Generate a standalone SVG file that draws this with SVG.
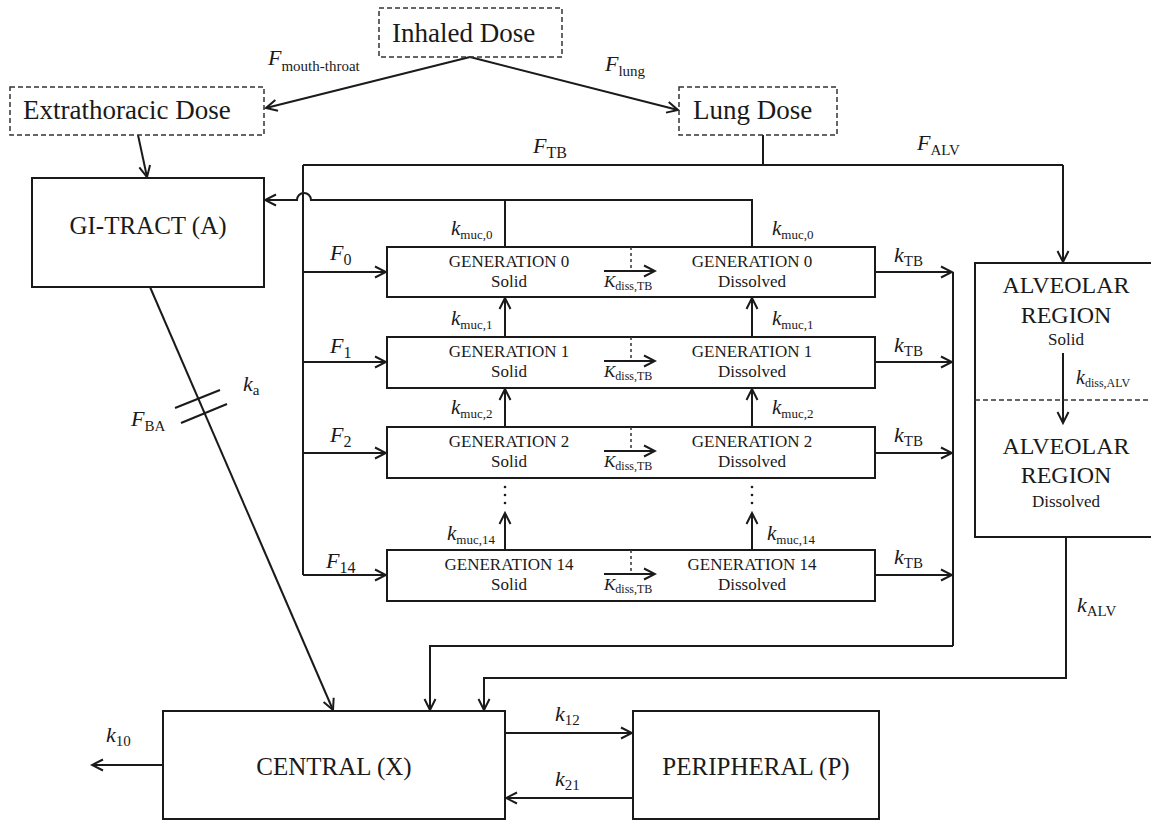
<svg xmlns="http://www.w3.org/2000/svg" width="1151" height="821" viewBox="0 0 1151 821">
<style>
.box{fill:none;stroke:#1a1a1a;stroke-width:2}
.dbox{fill:none;stroke:#333;stroke-width:1.5;stroke-dasharray:5 3}
.ln{fill:none;stroke:#1a1a1a;stroke-width:2}
.dl{fill:none;stroke:#333;stroke-width:1.5;stroke-dasharray:3 3}
.ar{marker-end:url(#ah)}
text{font-family:"Liberation Serif","Times New Roman",serif;fill:#1a1a1a}
.i{font-style:italic}
.big{font-size:27px}
.mid{font-size:25px}
.gen{font-size:17px;text-anchor:middle}
.alv{font-size:24px;text-anchor:middle}
.c{text-anchor:middle}
</style>
<defs>
<marker id="ah" markerUnits="userSpaceOnUse" markerWidth="14" markerHeight="14" refX="12" refY="7" orient="auto">
<path d="M1,1.5 L12,7 L1,12.5" fill="none" stroke="#1a1a1a" stroke-width="2"/>
</marker>
</defs>

<g id="connectors">
<!-- inhaled dose split -->
<path class="ln ar" d="M470,57 L266,108"/>
<path class="ln ar" d="M470,57 L678,110"/>
<path class="ln ar" d="M138,135 L147,177"/>
<!-- lung dose distribution -->
<path class="ln" d="M763,135 L763,165"/>
<path class="ln" d="M303,165 L1063,165"/>
<path class="ln ar" d="M1063,165 L1063,262"/>
<path class="ln" d="M303,165 L303,575"/>
<path class="ln ar" d="M303,272 L386,272"/>
<path class="ln ar" d="M303,362 L386,362"/>
<path class="ln ar" d="M303,453 L386,453"/>
<path class="ln ar" d="M303,575 L386,575"/>
<!-- mucociliary to GI -->
<path class="ln" d="M505,247 L505,200"/>
<path class="ln ar" d="M752,247 L752,200 L311,200 A7,7 0 0 0 297,200 L265,200"/>
<!-- muc arrows between generations -->
<path class="ln ar" d="M505,337 L505,298"/>
<path class="ln ar" d="M752,337 L752,298"/>
<path class="ln ar" d="M505,427 L505,389"/>
<path class="ln ar" d="M752,427 L752,389"/>
<path class="ln ar" d="M505,550 L505,513"/>
<path class="ln ar" d="M752,550 L752,513"/>
<g fill="#1a1a1a">
<circle cx="505" cy="487" r="1.3"/><circle cx="505" cy="495" r="1.3"/><circle cx="505" cy="503" r="1.3"/>
<circle cx="752" cy="487" r="1.3"/><circle cx="752" cy="495" r="1.3"/><circle cx="752" cy="503" r="1.3"/>
</g>
<!-- dissolution arrows -->
<path class="ln ar" d="M604,271 L655,271"/>
<path class="ln ar" d="M604,361 L655,361"/>
<path class="ln ar" d="M604,451 L655,451"/>
<path class="ln ar" d="M604,574 L655,574"/>
<!-- kTB -->
<path class="ln ar" d="M875,272 L952,272"/>
<path class="ln ar" d="M875,362 L952,362"/>
<path class="ln ar" d="M875,453 L952,453"/>
<path class="ln ar" d="M875,575 L952,575"/>
<path class="ln" d="M953,272 L953,646"/>
<path class="ln ar" d="M953,646 L430,646 L430,710"/>
<!-- kALV -->
<path class="ln ar" d="M1066,537 L1066,678 L484,678 L484,710"/>
<!-- alveolar dissolution -->
<path class="ln ar" d="M1063,353 L1063,423"/>
<!-- GI to central -->
<path class="ln ar" d="M150,287 L333,710"/>
<path class="ln" d="M175,408 L220,390"/>
<path class="ln" d="M181,423 L227,404"/>
<!-- central / peripheral -->
<path class="ln ar" d="M163,765 L92,765"/>
<path class="ln ar" d="M505,733 L632,733"/>
<path class="ln ar" d="M633,798 L506,798"/>
</g>

<g id="inhaled-dose">
<rect class="dbox" x="379" y="8" width="183" height="49"/>
<text class="big" x="392" y="42">Inhaled Dose</text>
</g>
<g id="extrathoracic-dose">
<rect class="dbox" x="10" y="87" width="254" height="48"/>
<text class="big" x="23" y="119">Extrathoracic Dose</text>
</g>
<g id="lung-dose">
<rect class="dbox" x="679" y="87" width="158" height="48"/>
<text class="big" x="693" y="119">Lung Dose</text>
</g>
<g id="gi-tract">
<rect class="box" x="32" y="178" width="232" height="109"/>
<text class="mid c" x="148" y="234">GI-TRACT (A)</text>
</g>

<g id="generation-0">
<rect class="box" x="387" y="247" width="488" height="50"/>
<path class="dl" d="M631,247 L631,270"/>
<text class="gen" x="509" y="267">GENERATION 0</text><text class="gen" x="509" y="287">Solid</text>
<text class="gen" x="752" y="267">GENERATION 0</text><text class="gen" x="752" y="287">Dissolved</text>
</g>
<g id="generation-1">
<rect class="box" x="387" y="337" width="488" height="51"/>
<path class="dl" d="M631,337 L631,360"/>
<text class="gen" x="509" y="357">GENERATION 1</text><text class="gen" x="509" y="377">Solid</text>
<text class="gen" x="752" y="357">GENERATION 1</text><text class="gen" x="752" y="377">Dissolved</text>
</g>
<g id="generation-2">
<rect class="box" x="387" y="427" width="488" height="51"/>
<path class="dl" d="M631,427 L631,450"/>
<text class="gen" x="509" y="447">GENERATION 2</text><text class="gen" x="509" y="467">Solid</text>
<text class="gen" x="752" y="447">GENERATION 2</text><text class="gen" x="752" y="467">Dissolved</text>
</g>
<g id="generation-14">
<rect class="box" x="387" y="550" width="488" height="51"/>
<path class="dl" d="M631,550 L631,573"/>
<text class="gen" x="509" y="570">GENERATION 14</text><text class="gen" x="509" y="590">Solid</text>
<text class="gen" x="752" y="570">GENERATION 14</text><text class="gen" x="752" y="590">Dissolved</text>
</g>

<g id="alveolar-region">
<rect class="box" x="975" y="263" width="190" height="274"/>
<path class="dbox" d="M975,400 L1151,400"/>
<text class="alv" x="1066" y="293">ALVEOLAR</text>
<text class="alv" x="1066" y="323">REGION</text>
<text class="gen" x="1066" y="345">Solid</text>
<text class="alv" x="1066" y="454">ALVEOLAR</text>
<text class="alv" x="1066" y="483">REGION</text>
<text class="gen" x="1066" y="507">Dissolved</text>
</g>

<g id="central">
<rect class="box" x="163" y="711" width="342" height="108"/>
<text class="mid c" x="334" y="775">CENTRAL (X)</text>
</g>
<g id="peripheral">
<rect class="box" x="633" y="711" width="246" height="108"/>
<text class="mid c" x="756" y="775">PERIPHERAL (P)</text>
</g>

<g id="labels">
<text x="268" y="65"><tspan class="i" font-size="22">F</tspan><tspan font-size="15" dy="6">mouth-throat</tspan></text>
<text x="605" y="71"><tspan class="i" font-size="22">F</tspan><tspan font-size="15" dy="5">lung</tspan></text>
<text x="533" y="153"><tspan class="i" font-size="22">F</tspan><tspan font-size="16" dy="5">TB</tspan></text>
<text x="917" y="150"><tspan class="i" font-size="22">F</tspan><tspan font-size="15" dy="5">ALV</tspan></text>

<text x="330" y="260"><tspan class="i" font-size="22">F</tspan><tspan font-size="16" dy="5">0</tspan></text>
<text x="330" y="353"><tspan class="i" font-size="22">F</tspan><tspan font-size="16" dy="5">1</tspan></text>
<text x="330" y="442"><tspan class="i" font-size="22">F</tspan><tspan font-size="16" dy="5">2</tspan></text>
<text x="326" y="568"><tspan class="i" font-size="22">F</tspan><tspan font-size="16" dy="5">14</tspan></text>

<text x="451" y="235"><tspan class="i" font-size="21">k</tspan><tspan font-size="13" dy="4">muc,0</tspan></text>
<text x="772" y="235"><tspan class="i" font-size="21">k</tspan><tspan font-size="13" dy="4">muc,0</tspan></text>
<text x="451" y="325"><tspan class="i" font-size="21">k</tspan><tspan font-size="13" dy="4">muc,1</tspan></text>
<text x="772" y="325"><tspan class="i" font-size="21">k</tspan><tspan font-size="13" dy="4">muc,1</tspan></text>
<text x="451" y="414"><tspan class="i" font-size="21">k</tspan><tspan font-size="13" dy="4">muc,2</tspan></text>
<text x="772" y="414"><tspan class="i" font-size="21">k</tspan><tspan font-size="13" dy="4">muc,2</tspan></text>
<text x="447" y="540"><tspan class="i" font-size="21">k</tspan><tspan font-size="13" dy="4">muc,14</tspan></text>
<text x="767" y="540"><tspan class="i" font-size="21">k</tspan><tspan font-size="13" dy="4">muc,14</tspan></text>

<text x="604" y="287"><tspan class="i" font-size="17">K</tspan><tspan font-size="12" dy="3">diss,TB</tspan></text>
<text x="604" y="377"><tspan class="i" font-size="17">K</tspan><tspan font-size="12" dy="3">diss,TB</tspan></text>
<text x="604" y="467"><tspan class="i" font-size="17">K</tspan><tspan font-size="12" dy="3">diss,TB</tspan></text>
<text x="604" y="590"><tspan class="i" font-size="17">K</tspan><tspan font-size="12" dy="3">diss,TB</tspan></text>

<text x="894" y="262"><tspan class="i" font-size="22">k</tspan><tspan font-size="15" dy="4">TB</tspan></text>
<text x="894" y="352"><tspan class="i" font-size="22">k</tspan><tspan font-size="15" dy="4">TB</tspan></text>
<text x="894" y="442"><tspan class="i" font-size="22">k</tspan><tspan font-size="15" dy="4">TB</tspan></text>
<text x="894" y="564"><tspan class="i" font-size="22">k</tspan><tspan font-size="15" dy="4">TB</tspan></text>

<text x="1076" y="384"><tspan class="i" font-size="20">k</tspan><tspan font-size="12" dy="3">diss,ALV</tspan></text>
<text x="1077" y="612"><tspan class="i" font-size="22">k</tspan><tspan font-size="15" dy="4">ALV</tspan></text>

<text x="243" y="391"><tspan class="i" font-size="22">k</tspan><tspan font-size="15" dy="4">a</tspan></text>
<text x="131" y="426"><tspan class="i" font-size="22">F</tspan><tspan font-size="15" dy="5">BA</tspan></text>

<text x="106" y="742"><tspan class="i" font-size="22">k</tspan><tspan font-size="15" dy="4">10</tspan></text>
<text x="555" y="721"><tspan class="i" font-size="22">k</tspan><tspan font-size="15" dy="4">12</tspan></text>
<text x="555" y="786"><tspan class="i" font-size="22">k</tspan><tspan font-size="15" dy="4">21</tspan></text>
</g>
</svg>
